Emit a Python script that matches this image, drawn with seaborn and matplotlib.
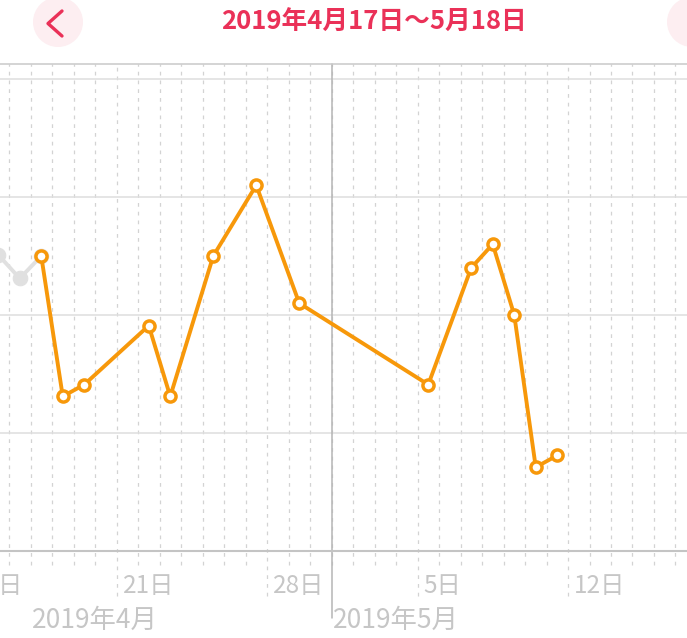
import pandas as pd
import numpy as np
import matplotlib
matplotlib.use("Agg")
import matplotlib.pyplot as plt
from matplotlib.patches import Circle
import seaborn as sns

# data (grid units, no y labels shown)
dates = ["2019-04-17", "2019-04-18", "2019-04-19", "2019-04-22", "2019-04-23",
         "2019-04-25", "2019-04-27", "2019-04-29", "2019-05-05", "2019-05-07",
         "2019-05-08", "2019-05-09", "2019-05-10", "2019-05-11"]
values = [2.50, 1.31, 1.41, 1.91, 1.31, 2.50, 3.10, 2.10, 1.41, 2.40,
          2.60, 2.00, 0.71, 0.81]
prev_dates = ["2019-04-15", "2019-04-16", "2019-04-17"]
prev_values = [2.51, 2.31, 2.50]
week_ticks = ["2019-04-14", "2019-04-21", "2019-04-28", "2019-05-05", "2019-05-12"]
week_labels = ["14日", "21日", "28日", "5日", "12日"]
month_starts = ["2019-04-17", "2019-05-01"]
month_labels = ["2019年4月", "2019年5月"]
title = "2019年4月17日〜5月18日"

sns.set_style("white")
plt.rcParams['font.family'] = ['Noto Sans CJK JP', 'DejaVu Sans']

ORANGE = "#f7980a"
GRID = "#dedede"
LABEL = "#c6c6c6"
RED = "#ea3158"

df = pd.DataFrame({"date": pd.to_datetime(dates) + pd.Timedelta(hours=12), "value": values})
prev = pd.DataFrame({"date": pd.to_datetime(prev_dates) + pd.Timedelta(hours=12), "value": prev_values})

W, H = 687, 638
fig = plt.figure(figsize=(W / 100, H / 100), dpi=100)

# background layer in pixel units for the header buttons
bg = fig.add_axes([0, 0, 1, 1], zorder=-1)
bg.set_xlim(0, W)
bg.set_ylim(H, 0)
bg.axis("off")
bg.add_patch(Circle((58, 22), 25, color="#fdeef1", lw=0))
bg.add_patch(Circle((692, 22), 25, color="#fdeef1", lw=0))
bg.plot([62, 48, 62], [11, 23.5, 36], color=RED, lw=2.4, solid_capstyle="round",
        solid_joinstyle="round")

px_day = 21.5
y_bot, y_top, y_step = 551, 64, 118
ax = fig.add_axes([0, (H - y_bot) / H, 1, (y_bot - y_top) / H])
ax.patch.set_alpha(0)
x0 = pd.Timestamp("2019-04-21") - pd.Timedelta(days=116.5 / px_day)
x1 = x0 + pd.Timedelta(days=W / px_day)
ax.set_xlim(x0, x1)
ax.set_ylim(0, (y_bot - y_top) / y_step)

# horizontal grid
ax.set_yticks([1, 2, 3, 4])
ax.set_yticklabels([])
ax.tick_params(left=False, bottom=False, labelbottom=False)
ax.yaxis.grid(True, color=GRID, lw=1.1)
ax.set_axisbelow(True)
for s in ["left", "right"]:
    ax.spines[s].set_visible(False)
ax.spines["top"].set_color("#c9c9c9")
ax.spines["top"].set_linewidth(1.1)
ax.spines["bottom"].set_color("#c4c4c4")
ax.spines["bottom"].set_linewidth(1.5)

# daily dashed lines, Sundays reach further down
days = pd.date_range("2019-04-10", "2019-05-20", freq="D")
trans = ax.get_xaxis_transform()
ext_short = -(565 - y_bot) / (y_bot - y_top)
ext_long = -(596 - y_bot) / (y_bot - y_top)
for d in days:
    lo = ext_long if d.dayofweek == 6 else ext_short
    ax.plot([d, d], [lo, 1], transform=trans, color="#d3d3d3", lw=0.9,
            dashes=(3, 4), clip_on=False, zorder=0.5)
ax.plot([pd.Timestamp("2019-05-01")] * 2, [-(618 - y_bot) / (y_bot - y_top), 1],
        transform=trans, color="#b5b5b5", lw=1.1, clip_on=False, zorder=0.6)

# series
sns.lineplot(data=prev, x="date", y="value", ax=ax, color="#e0e0e0", lw=2.8,
             marker="o", markersize=10.5, markerfacecolor="#e0e0e0",
             markeredgecolor="#e0e0e0", zorder=2)
sns.lineplot(data=df, x="date", y="value", ax=ax, color=ORANGE, lw=2.8,
             marker="o", markersize=8, markerfacecolor="white",
             markeredgecolor=ORANGE, markeredgewidth=2.5, zorder=3)
ax.set_xlabel("")
ax.set_ylabel("")

# week and month labels
y_week = -(586 - y_bot) / (y_bot - y_top)
y_month = -(620 - y_bot) / (y_bot - y_top)
for d, lab in zip(week_ticks, week_labels):
    ax.text(pd.Timestamp(d) + pd.Timedelta(days=6 / px_day), y_week, lab,
            transform=trans, ha="left", va="center", fontsize=17.5, color=LABEL,
            clip_on=False)
for d, lab in zip(month_starts, month_labels):
    ax.text(pd.Timestamp(d) + pd.Timedelta(days=1 / px_day), y_month, lab,
            transform=trans, ha="left", va="center", fontsize=19, color=LABEL,
            clip_on=False)

fig.text(374 / W, 1 - 22 / H, title, ha="center", va="center", fontsize=18.5,
         color=RED, fontweight="bold")

fig.savefig("out.png", dpi=100)
